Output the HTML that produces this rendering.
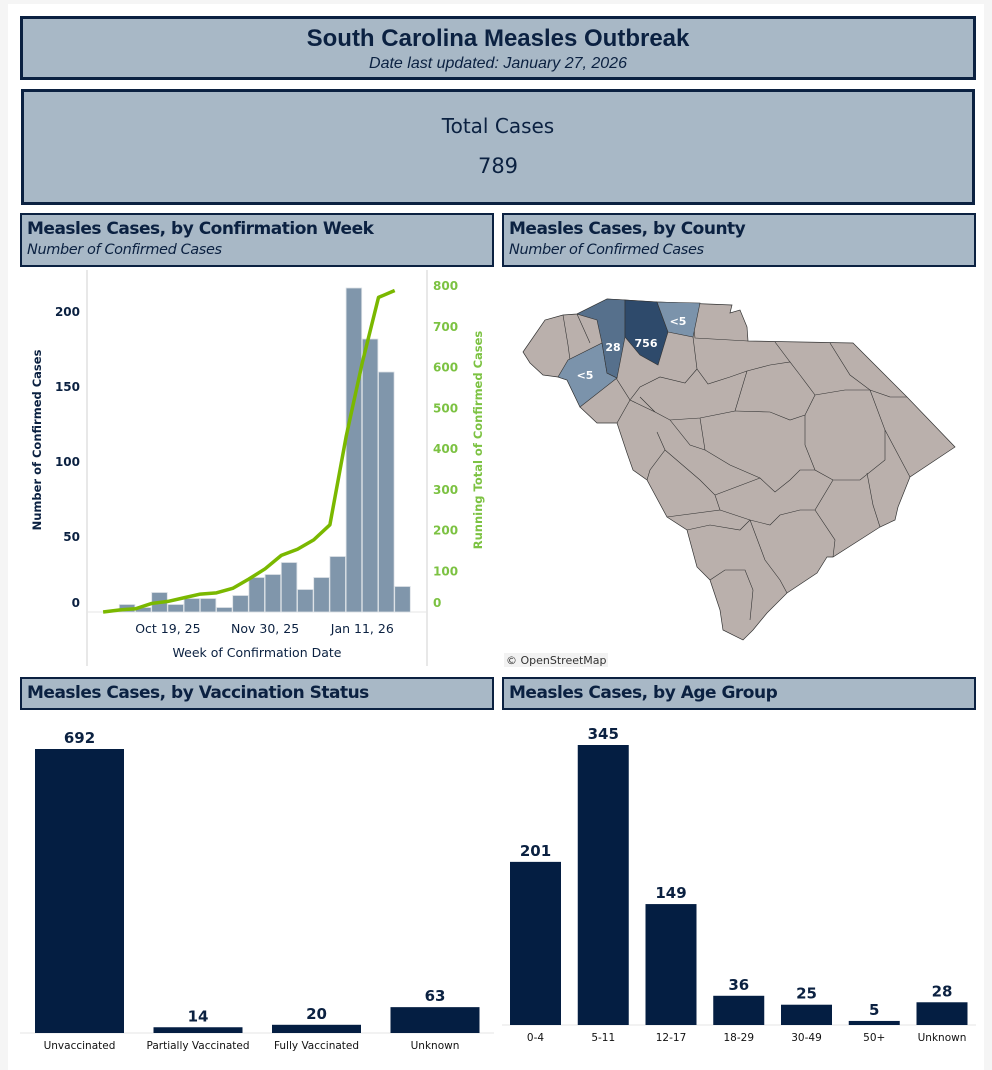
<!DOCTYPE html>
<html><head><meta charset="utf-8"><style>
body{margin:0;background:#f5f5f5;width:992px;height:1070px;overflow:hidden;font-family:"Liberation Sans",sans-serif;}
#page{position:absolute;left:8px;top:4px;width:976px;height:1066px;background:#fff;}
.box{position:absolute;background:#a8b8c6;border:3px solid #0b2141;box-sizing:border-box;color:#0b2141;}
.hdr{position:absolute;background:#a8b8c6;border:2px solid #0b2141;box-sizing:border-box;color:#0b2141;padding-left:5px;}
.hdr .t{font-weight:bold;font-size:17px;margin-top:4px;font-family:"DejaVu Sans",sans-serif;letter-spacing:-0.5px}
.hdr .s{font-style:italic;font-size:14.5px;margin-top:3px;font-family:"DejaVu Sans",sans-serif;letter-spacing:-0.4px}
svg{position:absolute;left:0;top:0}
</style></head><body>
<div id="page"></div>
<div class="box" style="left:20px;top:16px;width:956px;height:64px;text-align:center">
 <div style="font-weight:bold;font-size:24px;margin-top:6px">South Carolina Measles Outbreak</div>
 <div style="font-style:italic;font-size:16px;margin-top:2px">Date last updated: January 27, 2026</div>
</div>
<div class="box" style="left:21px;top:89px;width:954px;height:116px;text-align:center;font-family:'DejaVu Sans',sans-serif">
 <div style="font-size:20px;margin-top:22px">Total Cases</div>
 <div style="font-size:21px;margin-top:16px">789</div>
</div>
<div class="hdr" style="left:20px;top:213px;width:474px;height:54px"><div class="t">Measles Cases, by Confirmation Week</div><div class="s">Number of Confirmed Cases</div></div>
<div class="hdr" style="left:502px;top:213px;width:474px;height:54px"><div class="t">Measles Cases, by County</div><div class="s">Number of Confirmed Cases</div></div>
<div class="hdr" style="left:20px;top:677px;width:474px;height:33px"><div class="t">Measles Cases, by Vaccination Status</div></div>
<div class="hdr" style="left:502px;top:677px;width:474px;height:33px"><div class="t">Measles Cases, by Age Group</div></div>

<svg id="chart" width="992" height="1070" font-family="DejaVu Sans, sans-serif">
<g id="map">
 <polygon fill="#bab0ac" stroke="#333" stroke-width="0.7" points="523,352 545,320 563,315 577,314 607,299 625,300 657,302 732,305 730,313 740,310 747,327 748,341 853,343 907,397 955,447 910,477 898,507 895,520 880,527 833,557 827,557 817,573 787,593 767,613 753,630 743,640 723,630 720,610 710,580 697,567 687,530 667,517 647,480 633,470 627,453 617,423 597,423 580,407 567,380 558,377 543,375 530,363"/>
 <g fill="none" stroke="#333" stroke-width="0.6">
  <polyline points="563,315 568,345 570,360 558,377"/>
  <polyline points="577,314 590,343"/>
  <polyline points="693,337 697,369 708,384 730,377 747,371"/>
  <polyline points="692,309 695,338 748,341"/>
  <polyline points="697,369 685,383 660,377 640,387 630,400 617,423"/>
  <polyline points="616,378 630,400 655,412 670,420 700,418 735,411 747,371"/>
  <polyline points="747,371 770,365 790,362 800,375 815,395 805,415 790,420 770,412 735,411"/>
  <polyline points="775,342 790,362"/>
  <polyline points="830,343 850,375 870,390 890,397 907,397"/>
  <polyline points="815,395 845,390 870,390"/>
  <polyline points="870,390 885,430 885,460 860,480 833,480 815,470 805,445 805,415"/>
  <polyline points="885,430 910,477"/>
  <polyline points="700,418 705,450 730,465 760,478 775,492 790,480 800,470 815,470"/>
  <polyline points="657,432 665,450 650,470 647,480"/>
  <polyline points="670,420 690,445 705,450"/>
  <polyline points="665,450 700,480 715,495 720,510 667,517"/>
  <polyline points="715,495 760,478"/>
  <polyline points="720,510 750,520 770,525 780,515 800,510 815,510 833,480"/>
  <polyline points="750,520 765,560 780,580 787,593"/>
  <polyline points="815,510 835,540 833,557"/>
  <polyline points="867,473 873,505 880,527"/>
  <polyline points="687,530 710,525 740,530 750,520"/>
  <polyline points="710,580 725,570 745,570 753,590 750,620"/>
  <polyline points="640,397 655,412"/>
 </g>
 <polygon fill="#7b93ab" stroke="#333" stroke-width="0.6" points="558,377 567,380 580,407 617,378 607,373 602,343 568,360"/>
 <polygon fill="#56708c" stroke="#333" stroke-width="0.6" points="577,314 607,299 625,300 625,337 617,378 607,373 602,343 597,320"/>
 <polygon fill="#2e4a6b" stroke="#333" stroke-width="0.6" points="625,300 657,302 668,332 658,365 640,355 625,337"/>
 <polygon fill="#7b93ab" stroke="#333" stroke-width="0.6" points="657,302 700,303 693,337 668,332"/>
 <g fill="#fff" font-weight="bold" font-size="11" text-anchor="middle">
  <text x="613" y="351">28</text>
  <text x="646" y="347">756</text>
  <text x="678" y="325">&lt;5</text>
  <text x="585" y="379">&lt;5</text>
 </g>
 <rect x="504" y="653" width="104" height="14" fill="#f2f2f2"/>
 <text x="506" y="664" font-size="11" fill="#333">© OpenStreetMap</text>
</g>
</svg>
<script>
const weekCounts=[5,3,13,5,9,9,3,11,23,25,33,15,23,37,216,182,160,17];
const weekTickLabels=["Oct 19, 25","Nov 30, 25","Jan 11, 26"];
const weekTickIndex=[3,9,15];
const leftTicks=[0,50,100,150,200];
const rightTicks=[0,100,200,300,400,500,600,700,800];
const vaxCats=["Unvaccinated","Partially Vaccinated","Fully Vaccinated","Unknown"];
const vaxVals=[692,14,20,63];
const ageCats=["0-4","5-11","12-17","18-29","30-49","50+","Unknown"];
const ageVals=[201,345,149,36,25,5,28];

const NS="http://www.w3.org/2000/svg";
const svg=document.getElementById('chart');
function mk(tag,attrs,parent){const e=document.createElementNS(NS,tag);for(const k in attrs)e.setAttribute(k,attrs[k]);(parent||svg).appendChild(e);return e;}
function txt(s,attrs){const e=mk('text',attrs);e.textContent=s;return e;}

const slotW=16.2, x0=119.3, base=612;
const yL=v=>base-v*1.5, yR=v=>base-v*0.4075;
const xB=i=>x0+i*slotW;
let a=mk('line',{x1:87,y1:270,x2:87,y2:666,stroke:'#d0d0d0'});


a=mk('line',{x1:427,y1:270,x2:427,y2:666,stroke:'#d0d0d0'});


a=mk('line',{x1:87,y1:base,x2:427,y2:base,stroke:'#e6e6e6'});


weekCounts.forEach((v,i)=>{
 const r=mk('rect',{x:xB(i),y:yL(v),width:slotW-0.6,height:v*1.5,fill:'#8096ab',stroke:'#dde2e7','stroke-width':0.8});
 
 
});
let cum=0;const pts=[[xB(-1),yR(0)]];
weekCounts.forEach((v,i)=>{cum+=v;pts.push([xB(i),yR(cum)]);});
const pl=mk('polyline',{points:pts.map(p=>p.join(',')).join(' '),fill:'none',stroke:'#7ab800','stroke-width':3.5,'stroke-linejoin':'round'});


leftTicks.forEach(v=>{
 const t=txt(String(v),{x:80,y:(v===0?603:yL(v))+4,'text-anchor':'end','font-size':12,'font-weight':'bold',fill:'#0b2141'});
 
 
});
rightTicks.forEach(v=>{
 const t=txt(String(v),{x:433,y:(v===0?603:yR(v))+4,'font-size':12,'font-weight':'bold',fill:'#7cc242'});
 
 
});
weekTickLabels.forEach((s,k)=>{
 const t=txt(s,{x:xB(weekTickIndex[k]),y:633,'text-anchor':'middle','font-size':12.5,fill:'#0b2141'});
 
 
});
a=txt('Week of Confirmation Date',{x:257,y:657,'text-anchor':'middle','font-size':12.5,fill:'#0b2141'});


a=txt('Number of Confirmed Cases',{x:0,y:0,transform:'translate(41,440) rotate(-90)','text-anchor':'middle','font-size':11.5,'font-weight':'bold',fill:'#0b2141'});


a=txt('Running Total of Confirmed Cases',{x:0,y:0,transform:'translate(482,440) rotate(-90)','text-anchor':'middle','font-size':11.5,'font-weight':'bold',fill:'#7cc242'});



const vBase=1033, vScale=284/692, vSlot=118.5, vX0=20;
a=mk('line',{x1:20,y1:vBase,x2:494,y2:vBase,stroke:'#e6e6e6'});


vaxCats.forEach((c,i)=>{
 const h=vaxVals[i]*vScale, x=vX0+i*vSlot+15;
 const r=mk('rect',{x:x,y:vBase-h,width:89,height:h,fill:'#041e42'});
 
 
 const t=txt(String(vaxVals[i]),{x:x+44.5,y:vBase-h-6,'text-anchor':'middle','font-size':15,'font-weight':'bold',fill:'#0b2141'});
 
 
 const l=txt(c,{x:x+44.5,y:1049,'text-anchor':'middle','font-size':10.5,fill:'#111'});
 
 
});

const aBase=1025, aScale=280/345, aSlot=67.75, aX0=502;
a=mk('line',{x1:502,y1:aBase,x2:976,y2:aBase,stroke:'#e6e6e6'});


ageCats.forEach((c,i)=>{
 const h=ageVals[i]*aScale, x=aX0+i*aSlot+8;
 const r=mk('rect',{x:x,y:aBase-h,width:51,height:h,fill:'#041e42'});
 
 
 const t=txt(String(ageVals[i]),{x:x+25.5,y:aBase-h-6,'text-anchor':'middle','font-size':15,'font-weight':'bold',fill:'#0b2141'});
 
 
 const l=txt(c,{x:x+25.5,y:1041,'text-anchor':'middle','font-size':10.5,fill:'#111'});
 
 
});
</script>
</body></html>
